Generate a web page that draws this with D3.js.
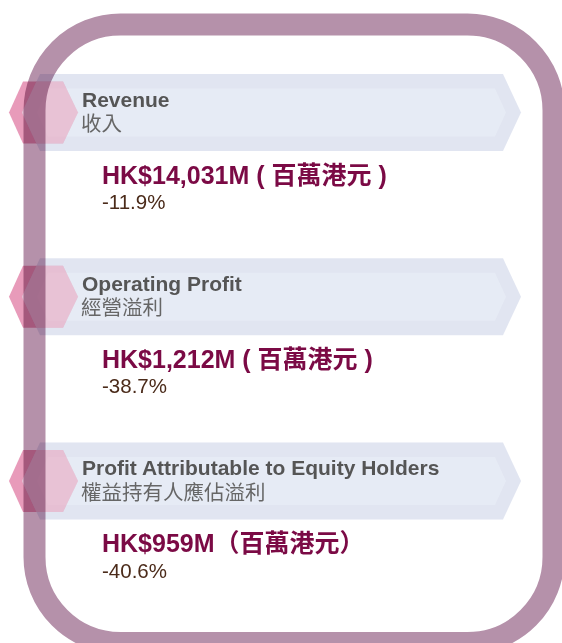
<!DOCTYPE html>
<html>
<head>
    <script src="https://d3js.org/d3.v7.min.js"></script>
    <style>
        body {
            margin: 0;
            background: #ffffff;
        }
        svg text {
            font-family: "Liberation Sans", "Noto Sans CJK TC", sans-serif;
        }
    </style>
</head>
<body>
<div id="chart"></div>

<script>
// Data
const metricsEn = ["Revenue", "Operating Profit", "Profit Attributable to Equity Holders"];
const metricsZh = ["收入", "經營溢利", "權益持有人應佔溢利"];
const valuesHKDm = [14031, 1212, 959];
const unitLabels = [" ( 百萬港元 )", " ( 百萬港元 )", "（百萬港元）"];
const changePct = [-11.9, -38.7, -40.6];

const width = 562;
const height = 643;

const rows = metricsEn.map((name, i) => ({
    en: name,
    zh: metricsZh[i],
    value: valuesHKDm[i],
    unit: unitLabels[i],
    change: changePct[i]
}));

const svg = d3.select("#chart")
    .append("svg")
    .attr("width", width)
    .attr("height", height)
    .attr("viewBox", `0 0 ${width} ${height}`);

// row centres (banner middle line)
const yRow = d3.scalePoint()
    .domain(metricsEn)
    .range([112.5, 481]);

// plain hyphen for negatives, like the report
const locale = d3.formatLocale({ decimal: ".", thousands: ",", grouping: [3], currency: ["HK$", ""], minus: "-" });
const fmtValue = locale.format(",");
const fmtPct = locale.format(".1f");

// shapes, relative to row centre
const bannerOuter = [[40, -38.5], [503, -38.5], [521, 0], [503, 38.5], [40, 38.5], [22, 0]];
const bannerInner = [[48, -24], [495, -24], [506, 0], [495, 24], [48, 24], [37, 0]];
const hexagon = [[9, 0], [23, -31], [63, -31], [78, 0], [63, 31], [23, 31]];
const poly = pts => "M" + pts.map(p => p.join(",")).join("L") + "Z";

svg.append("defs")
    .append("clipPath")
    .attr("id", "banner-clip")
    .append("path")
    .attr("d", poly(bannerOuter));

const groups = svg.append("g")
    .selectAll("g")
    .data(rows)
    .join("g")
    .attr("transform", d => `translate(0,${yRow(d.en)})`);

groups.append("path")
    .attr("d", poly(hexagon))
    .attr("fill", "#e89bba");

groups.append("path")
    .attr("d", poly(bannerOuter))
    .attr("fill", "rgb(205,212,232)")
    .attr("fill-opacity", 0.6);

groups.append("path")
    .attr("d", poly(bannerInner))
    .attr("fill", "rgb(242,246,251)")
    .attr("fill-opacity", 0.35);

// part of the hexagon lying on the banner is paler
groups.append("path")
    .attr("d", poly(hexagon))
    .attr("clip-path", "url(#banner-clip)")
    .attr("fill", "#e9bfd2")
    .attr("fill-opacity", 0.85);

// titles
groups.append("text")
    .attr("x", 82)
    .attr("y", -6)
    .attr("fill", "#555555")
    .style("font-size", "21px")
    .style("font-weight", "bold")
    .text(d => d.en);

groups.append("text")
    .attr("x", 81)
    .attr("y", 18.5)
    .attr("fill", "#666666")
    .style("font-size", "20.5px")
    .style("font-family", "'Noto Sans CJK TC', sans-serif")
    .text(d => d.zh);

// value + change
groups.append("text")
    .attr("x", 102)
    .attr("y", 71)
    .attr("fill", "#7b0a45")
    .style("font-size", "25px")
    .style("font-weight", "bold")
    .text(d => `HK$${fmtValue(d.value)}M${d.unit}`);

groups.append("text")
    .attr("x", 102)
    .attr("y", 96.5)
    .attr("fill", "#4b2b1a")
    .style("font-size", "20.5px")
    .text(d => `${fmtPct(d.change)}%`);

// outer rounded frame
svg.append("rect")
    .attr("x", 34.5)
    .attr("y", 24.5)
    .attr("width", 519)
    .attr("height", 618.5)
    .attr("rx", 86)
    .attr("fill", "none")
    .attr("stroke", "#b591aa")
    .attr("stroke-width", 22)
    .style("mix-blend-mode", "multiply");
</script>
</body>
</html>
